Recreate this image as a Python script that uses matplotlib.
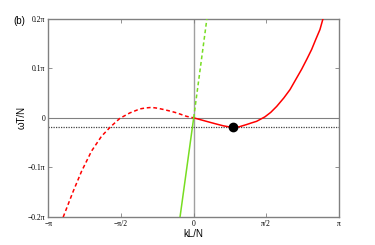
import matplotlib
matplotlib.use("Agg")
import matplotlib.pyplot as plt

# values in units of pi
k_red_dash = [-0.898, -0.829, -0.772, -0.703, -0.634, -0.572, -0.508, -0.439,
              -0.370, -0.330, -0.290, -0.250, -0.210, -0.160, -0.117, -0.049, 0.0]
w_red_dash = [-0.200, -0.148, -0.108, -0.067, -0.037, -0.018, -0.001, 0.010,
              0.018, 0.020, 0.021, 0.0195, 0.017, 0.0135, 0.010, 0.003, 0.0]

k_red_solid = [0.0, 0.05, 0.112, 0.15, 0.203, 0.24, 0.272, 0.31, 0.364, 0.40,
               0.433, 0.49, 0.53, 0.571, 0.62, 0.663, 0.70, 0.743, 0.78,
               0.812, 0.84, 0.869, 0.892]
w_red_solid = [0.0, -0.004, -0.009, -0.012, -0.016, -0.018, -0.019, -0.0183,
               -0.0135, -0.0100, -0.007, 0.002, 0.011, 0.023, 0.040, 0.057,
               0.076, 0.098, 0.119, 0.138, 0.158, 0.178, 0.202]

k_green_solid = [-0.094, 0.0]
w_green_solid = [-0.2, 0.0]
k_green_dash = [0.0, 0.091]
w_green_dash = [0.0, 0.2]

w_level = -0.019
k_dot = 0.272

xticks = [-1, -0.5, 0, 0.5, 1]
xticklabels = ["\u2212\u03c0", "\u2212\u03c0/2", "0", "\u03c0/2", "\u03c0"]
yticks = [-0.2, -0.1, 0, 0.1, 0.2]
yticklabels = ["\u22120.2\u03c0", "\u22120.1\u03c0", "0", "0.1\u03c0", "0.2\u03c0"]

fig = plt.figure(figsize=(3.75, 2.45), dpi=100)
ax = fig.add_axes([0.129, 0.114, 0.775, 0.81])

gray = "#808080"
ax.axhline(0, color=gray, lw=0.8, zorder=1)
ax.axvline(0, color="#a0a0a0", lw=1.0, zorder=1)
ax.axhline(w_level, color="#444444", lw=0.9, ls=(0, (1, 1)), zorder=1)

ax.plot(k_red_dash, w_red_dash, color="red", lw=1.1, dashes=(2.5, 1.8), zorder=3)
ax.plot(k_red_solid, w_red_solid, color="red", lw=1.1, zorder=3)
ax.plot(k_green_solid, w_green_solid, color="#77dd22", lw=1.1, zorder=3)
ax.plot(k_green_dash, w_green_dash, color="#77dd22", lw=1.1, dashes=(2.5, 1.8), zorder=3)
ax.plot([k_dot], [w_level], "o", color="black", ms=6, zorder=4)

ax.set_xlim(-1, 1)
ax.set_ylim(-0.2, 0.2)
ax.set_xticks(xticks)
ax.set_xticklabels(xticklabels, family="Liberation Serif", fontsize=5.5)
ax.set_yticks(yticks)
ax.set_yticklabels(yticklabels, family="Liberation Serif", fontsize=5.5)
ax.tick_params(direction="in", top=True, right=True, length=3, width=0.6,
               color=gray, pad=2)
for s in ax.spines.values():
    s.set_color(gray)
    s.set_linewidth(1.0)

ax.set_xlabel("kL/N", family="Liberation Sans", fontsize=7, labelpad=1)
ax.set_ylabel("\u03c9T/N", family="Liberation Sans", fontsize=7, labelpad=1)
fig.text(0.035, 0.9, "(b)", family="Liberation Sans", fontsize=7)

fig.savefig("out.png", dpi=100)
